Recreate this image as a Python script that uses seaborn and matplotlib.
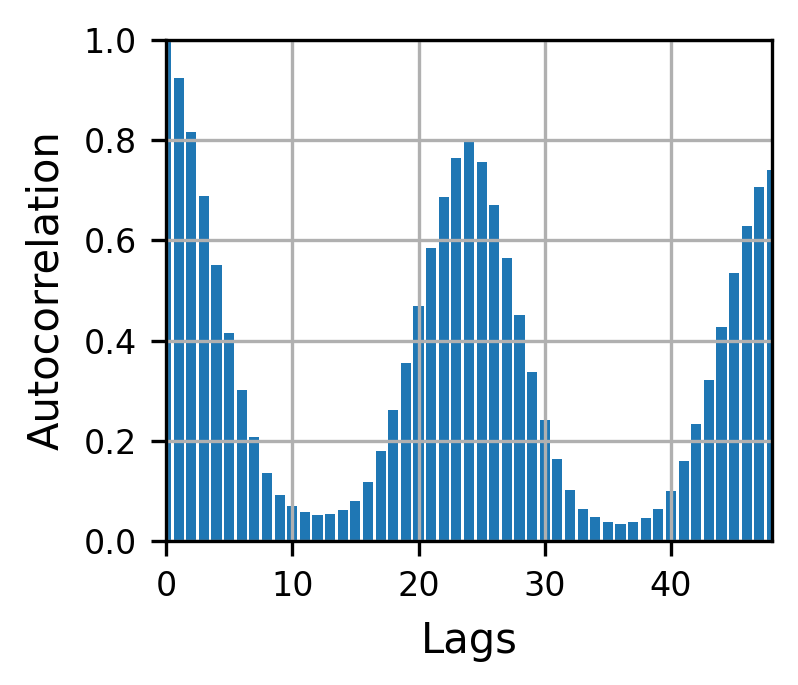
import numpy as np
import pandas as pd
import matplotlib
matplotlib.use('Agg')
import matplotlib.pyplot as plt
import seaborn as sns

# ── data: autocorrelation per lag ──────────────────────────────────
lags = list(range(49))
acf = [1.000, 0.925, 0.817, 0.689, 0.551, 0.415, 0.301, 0.207, 0.136, 0.092,
       0.070, 0.058, 0.052, 0.054, 0.062, 0.079, 0.118, 0.180, 0.261, 0.356,
       0.469, 0.584, 0.686, 0.764, 0.797, 0.757, 0.671, 0.565, 0.451, 0.337,
       0.242, 0.163, 0.102, 0.064, 0.047, 0.038, 0.033, 0.038, 0.046, 0.063,
       0.100, 0.159, 0.233, 0.322, 0.427, 0.535, 0.629, 0.707, 0.741]

df = pd.DataFrame({'Lags': lags, 'Autocorrelation': acf})

sns.set_style('ticks', {'axes.grid': True, 'grid.color': '#b0b0b0',
                        'axes.edgecolor': 'black', 'text.color': 'black',
                        'axes.labelcolor': 'black', 'xtick.color': 'black',
                        'ytick.color': 'black'})
plt.rcParams['font.family'] = ['DejaVu Sans']

DPI = 300
fig = plt.figure(figsize=(798 / DPI, 685 / DPI), dpi=DPI)
ax = fig.add_axes([166 / 798, 1 - 541 / 685, (772 - 166) / 798, (541 - 40) / 685])

sns.barplot(data=df, x='Lags', y='Autocorrelation', native_scale=True,
            color='#1f77b4', saturation=1, width=0.8, linewidth=0,
            ax=ax, zorder=1)

ax.set_xlim(0, 48)
ax.set_ylim(0, 1.0)
ax.set_xticks([0, 10, 20, 30, 40])
ax.set_yticks([0.0, 0.2, 0.4, 0.6, 0.8, 1.0])
ax.set_yticklabels(['0.0', '0.2', '0.4', '0.6', '0.8', '1.0'])
ax.grid(True, color='#b0b0b0', linewidth=0.8)
ax.set_axisbelow(False)
for gl in ax.get_xgridlines() + ax.get_ygridlines():
    gl.set_zorder(1.5)
ax.tick_params(labelsize=8, length=3.5, width=0.8, pad=3.5,
               color='black', labelcolor='black')
ax.set_xlabel('Lags', fontsize=10, color='black')
ax.set_ylabel('Autocorrelation', fontsize=10, color='black')
for s in ax.spines.values():
    s.set_linewidth(0.8)
    s.set_color('black')
    s.set_zorder(3)

fig.savefig('out.png', dpi=DPI)
